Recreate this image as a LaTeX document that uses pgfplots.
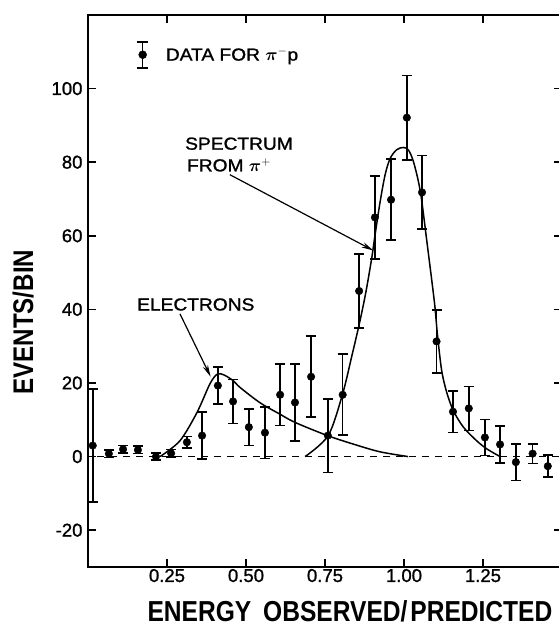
\documentclass[border=0pt]{standalone}
\usepackage{amsmath}
\usepackage{fontspec}
\setmainfont{Liberation Sans}
\newfontfamily\labfont[FakeStretch=0.85]{Liberation Sans}
\newfontfamily\annfont[FakeStretch=1.1,FakeBold=1.2]{Liberation Sans}
\newfontfamily\tickfont[FakeBold=1.2]{Liberation Sans}
\usepackage{pgfplots}
\pgfplotsset{compat=1.18}
\usepackage{pgfplotstable}
\usetikzlibrary{arrows.meta}

% pi- p data, events per bin with errors
\pgfplotstableread{
x      y     e
0.015  3.0   15.3
0.066  0.8   1.0
0.111  2.0   1.0
0.158  1.8   1.0
0.215  0.0   1.0
0.263  0.9   1.0
0.313  3.9   1.6
0.361  5.7   6.4
0.411  19.3  5.0
0.459  15.0  6.0
0.509  8.0   5.0
0.560  6.5   7.0
0.608  16.8  8.3
0.655  14.7  10.5
0.706  21.7  11.0
0.759  5.7   10.0
0.806  16.8  11.0
0.858  45.0  10.0
0.908  65.0  11.3
0.959  69.8  11.0
1.009  92.1  11.5
1.057  71.8  10.0
1.103  31.3  8.6
1.155  12.2  5.7
1.205  13.1  6.0
1.256  5.2   4.9
1.304  3.3   5.0
1.354  -1.5  5.0
1.407  0.8   2.7
1.455  -2.6  3.0
}\pidata

% electron curve
\pgfplotstableread{
x      y
0.228  0.0
0.291  4.3
0.345  12.0
0.386  19.8
0.409  22.4
0.430  22.2
0.460  20.6
0.481  18.8
0.545  14.6
0.608  11.5
0.655  9.3
0.758  5.7
0.847  3.2
0.924  1.3
1.013  0.0
}\electrons

% spectrum from pi+
\pgfplotstableread{
x      y
0.687  0.0
0.760  5.7
0.805  16.8
0.834  27.0
0.861  37.0
0.880  45.0
0.898  54.0
0.908  60.0
0.924  69.0
0.940  76.5
0.956  81.0
0.977  83.4
0.998  84.0
1.014  83.3
1.029  80.4
1.045  75.0
1.056  69.6
1.072  58.7
1.088  47.8
1.098  40.6
1.106  33.0
1.119  23.5
1.135  17.5
1.156  12.5
1.188  8.0
1.230  4.3
1.262  2.1
1.304  0.0
}\pispec

\begin{document}
\begin{tikzpicture}
\begin{axis}[
    scale only axis,
    width=474bp,
    height=552bp,
    xmin=0, xmax=1.5,
    ymin=-30, ymax=120,
    xtick={0.25,0.5,0.75,1,1.25},
    ytick={-20,0,20,40,60,80,100},
    tick align=inside,
    major tick length=8bp,
    major tick style={line width=1.5bp, black},
    axis line style={line width=1.8bp},
    /pgf/number format/assume math mode=true,
    tick label style={font=\tickfont\fontsize{18.6}{20}\selectfont},
    xticklabel style={/pgf/number format/.cd, fixed, fixed zerofill, precision=2, /tikz/.cd, yshift=1.5bp},
    yticklabel style={/pgf/number format/.cd, fixed, precision=0, /tikz/.cd, xshift=-2bp},
    xlabel={ENERGY\hspace{12bp}OBSERVED/\hspace{3bp}PREDICTED},
    ylabel={EVENTS/BIN},
    xlabel style={font=\labfont\bfseries\fontsize{29}{31}\selectfont, at={(axis cs:0.829,-44.8)}, anchor=base},
    ylabel style={font=\labfont\bfseries\fontsize{28.5}{30}\selectfont, at={(axis cs:-0.174,36.5)}, anchor=base},
    legend style={draw=none, fill=none, inner sep=0pt, at={(axis cs:0.1525,109.2)}, anchor=west,
        font=\annfont\fontsize{17.5}{19}\selectfont, nodes={inner sep=2bp}},
    legend cell align=left,
]
\addplot[forget plot, dash pattern=on 7bp off 6bp, line width=1.2bp] coordinates {(0.03,0) (1.5,0)};
\addplot[forget plot, smooth, line width=1.5bp] table[x=x,y=y] {\electrons};
\addplot[forget plot, smooth, line width=1.5bp] table[x=x,y=y] {\pispec};
\addplot[only marks, mark=*, mark size=3.8bp, black,
    error bars/.cd, y dir=both, y explicit,
    error bar style={line width=1.6bp},
    error mark options={rotate=90, mark size=5bp, line width=1.6bp},
    /pgfplots/legend image code/.code={
      \draw[line width=1.6bp] (0bp,-13bp) -- (0bp,13bp);
      \draw[line width=1.6bp] (-5.5bp,-13bp) -- (5.5bp,-13bp) (-5.5bp,13bp) -- (5.5bp,13bp);
      \fill (0bp,0bp) circle (4bp);
      \path (21bp,0bp);
    }]
    table[x=x,y=y,y error=e] {\pidata};
\addlegendentry{DATA\ FOR $\boldsymbol{\pi}^{-}$p}

\node[anchor=base west, inner sep=0pt, font=\annfont\fontsize{17.5}{19}\selectfont] at (axis cs:0.307,83.4) {SPECTRUM};
\node[anchor=base west, inner sep=0pt, font=\annfont\fontsize{17.5}{19}\selectfont] at (axis cs:0.313,77.5) {FROM $\boldsymbol{\pi}^{+}$};
\node[anchor=base west, inner sep=0pt, font=\annfont\fontsize{17.5}{19}\selectfont] at (axis cs:0.155,39.7) {ELECTRONS};
\draw[line width=1.2bp, -{Stealth[length=12bp,width=5.5bp]}] (axis cs:0.449,76.6) -- (axis cs:0.903,56);
\draw[line width=1.2bp, -{Stealth[length=12bp,width=5.5bp]}] (axis cs:0.291,38.8) -- (axis cs:0.388,21.7);
\end{axis}
\pgfresetboundingbox
\path[use as bounding box] (-88bp,-59bp) rectangle (471bp,567bp);
\end{tikzpicture}
\end{document}
